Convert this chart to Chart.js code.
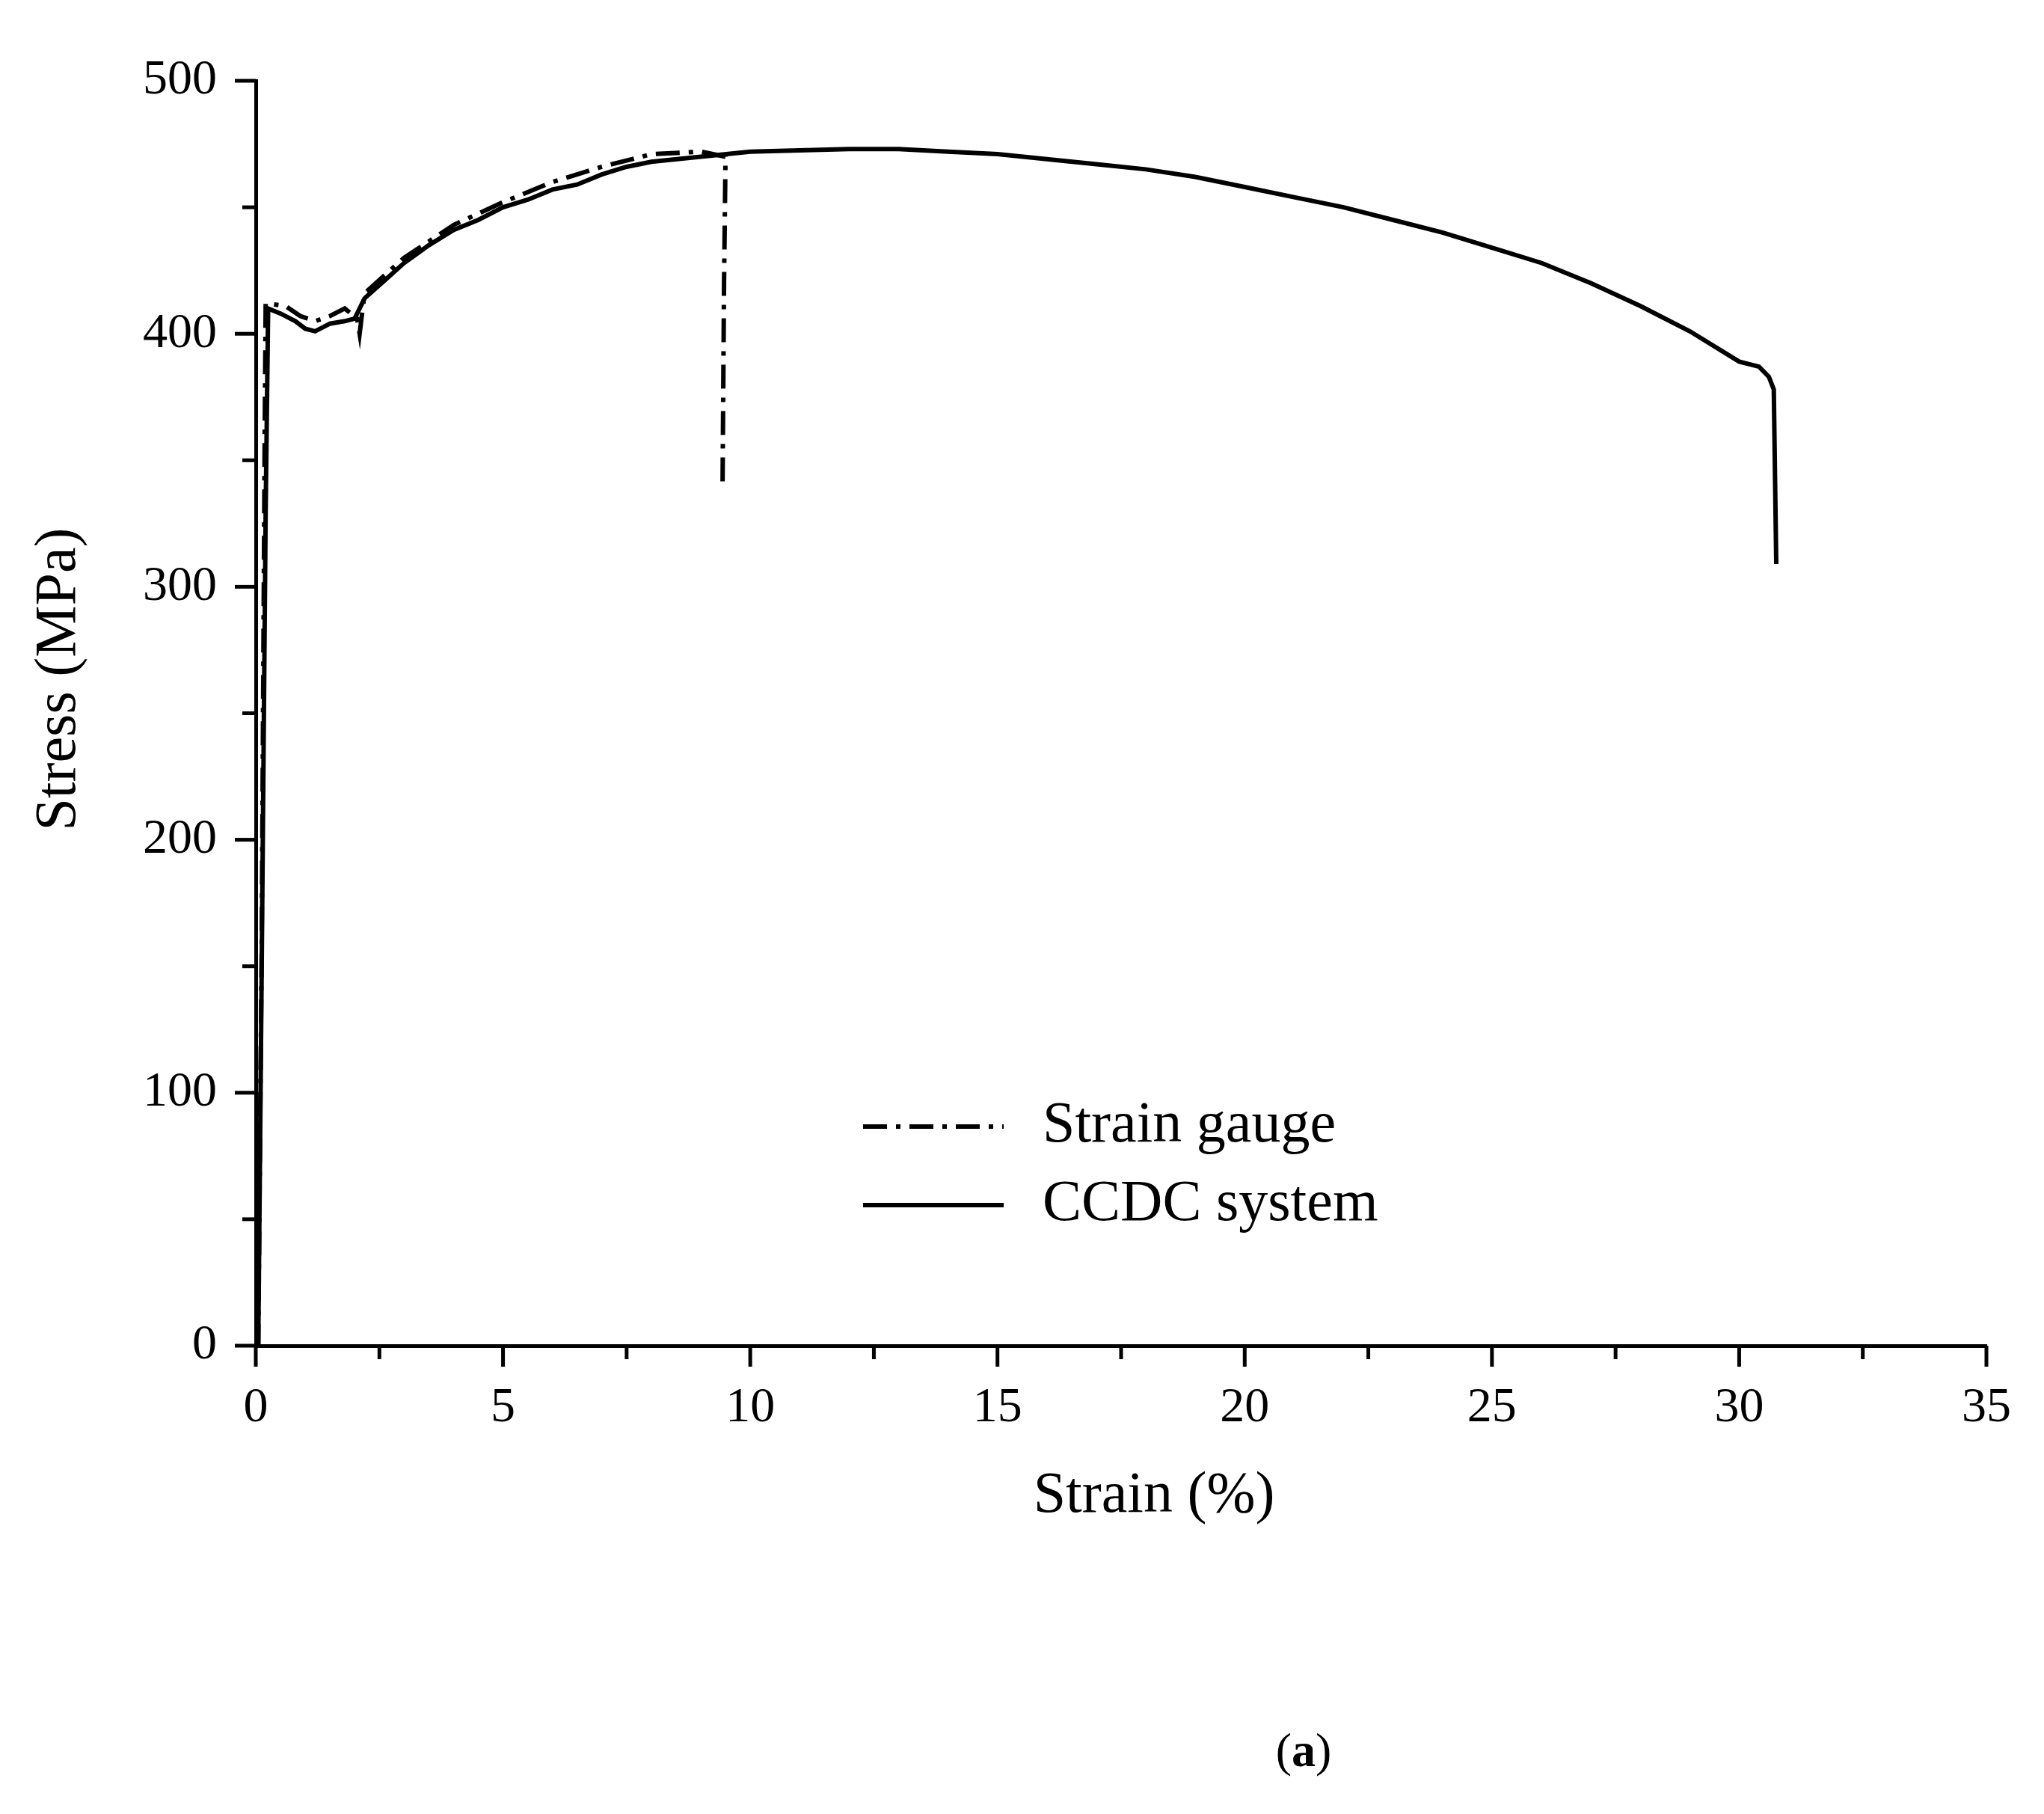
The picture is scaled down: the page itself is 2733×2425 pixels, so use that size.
<!DOCTYPE html>
<html><head><meta charset="utf-8">
<script src="https://cdn.jsdelivr.net/npm/chart.js@4"></script>
<style>html,body{margin:0;background:#fff}#c{display:block}</style>
</head><body>
<div style="width:2733px;height:2425px"><canvas id="c"></canvas></div>
<script>
const ccdcStrain = [0,0.05,0.12,0.2,0.25,0.5,0.8,1.0,1.2,1.5,1.8,2.0,2.2,2.6,3,3.5,4,4.5,5,5.5,6,6.5,7,7.5,8,9,10,11,12,13,14,15,16,17,18,19,20,21,22,23,24,25,26,27,28,29,30,30.4,30.6,30.7,30.75];
const ccdcStress = [0,0,150,330,410,408,405,402,401,404,405,406,414,421,428,435,441,445,450,453,457,459,463,466,468,470,472,472.5,473,473,472,471,469,467,465,462,458,454,450,445,440,434,428,420,411,401,389,387,383,378,309];
const gaugeStrain = [0,0.05,0.12,0.18,0.2,0.6,0.9,1.2,1.5,1.8,2.05,2.1,2.2,3,4,5,6,7,8,9,9.5,9.47,9.44];
const gaugeStress = [0,0,160,360,412,411,407,405,407,410,406,400,416,430,443,452,460,466,471,472,470,420,340];
const xTicks = [0,5,10,15,20,25,30,35];
const yTicks = [0,100,200,300,400,500];
const seriesNames = ['Strain gauge','CCDC system'];

const font = 'Liberation Serif';
const toXY = (xs, ys) => xs.map((x,i)=>({x, y: ys[i]}));
const DASH = [32,12,6,12];
const LW = 6;

const extras = {
  id:'extras',
  afterDraw(chart){
    const ctx = chart.ctx, xs = chart.scales.x, ys = chart.scales.y;
    ctx.save();
    ctx.strokeStyle='#000'; ctx.lineWidth=5; ctx.lineCap='butt';
    for(let v=0; v<=35.001; v+=2.5){
      const px = xs.getPixelForValue(v); const major = Math.abs(v/5-Math.round(v/5))<1e-6;
      ctx.beginPath(); ctx.moveTo(px, ys.bottom); ctx.lineTo(px, ys.bottom + (major?28:18)); ctx.stroke();
    }
    for(let v=0; v<=500.001; v+=50){
      const py = ys.getPixelForValue(v); const major = v%100===0;
      ctx.beginPath(); ctx.moveTo(xs.left, py); ctx.lineTo(xs.left - (major?28:18), py); ctx.stroke();
    }
    ctx.fillStyle='#000';
    // axis titles
    ctx.font = '78px "'+font+'"'; ctx.textAlign='center'; ctx.textBaseline='middle';
    ctx.fillText('Strain (%)', 1543, 2001);
    ctx.save(); ctx.translate(80, 908); ctx.rotate(-Math.PI/2); ctx.fillText('Stress (MPa)', 0, 0); ctx.restore();
    // legend
    const lx1=1154, lx2=1342, ly=[1506,1611];
    ctx.font = '78px "'+font+'"'; ctx.textAlign='left';
    for(let i=0;i<2;i++){
      ctx.setLineDash(i===0?DASH:[]); ctx.lineWidth=LW;
      ctx.beginPath(); ctx.moveTo(lx1, ly[i]); ctx.lineTo(lx2, ly[i]); ctx.stroke();
      ctx.setLineDash([]);
      ctx.fillText(seriesNames[i], 1394, ly[i]);
    }
    // (a)
    ctx.font = '64px "'+font+'"';
    const w1 = ctx.measureText('(').width, wa0 = ctx.measureText(')').width;
    ctx.font = 'bold 64px "'+font+'"'; const wa = ctx.measureText('a').width;
    let sx = 1743 - (w1+wa+wa0)/2;
    ctx.font = '64px "'+font+'"'; ctx.fillText('(', sx, 2344); sx+=w1;
    ctx.font = 'bold 64px "'+font+'"'; ctx.fillText('a', sx, 2344); sx+=wa;
    ctx.font = '64px "'+font+'"'; ctx.fillText(')', sx, 2344);
    ctx.restore();
  }
};

new Chart(document.getElementById('c'), {
  type:'scatter',
  data:{datasets:[
    {label:seriesNames[0], data:toXY(gaugeStrain,gaugeStress), showLine:true, pointRadius:0, borderColor:'#000', borderWidth:LW, borderDash:DASH, tension:0},
    {label:seriesNames[1], data:toXY(ccdcStrain,ccdcStress), showLine:true, pointRadius:0, borderColor:'#000', borderWidth:LW, tension:0}
  ]},
  options:{
    responsive:true, maintainAspectRatio:false, animation:false,
    layout:{padding:{left:0,right:44,top:108,bottom:0}},
    plugins:{legend:{display:false}, tooltip:{enabled:false}},
    scales:{
      x:{type:'linear', min:0, max:35,
        afterFit(s){s.height=626;},
        afterBuildTicks(s){s.ticks = xTicks.map(v=>({value:v}));},
        grid:{display:false, drawTicks:false},
        border:{display:true, color:'#000', width:5},
        ticks:{color:'#000', padding:44, maxRotation:0, font:{family:font, size:66}},
        title:{display:false}
      },
      y:{type:'linear', min:0, max:500,
        afterFit(s){s.width=342;},
        afterBuildTicks(s){s.ticks = yTicks.map(v=>({value:v}));},
        grid:{display:false, drawTicks:false},
        border:{display:true, color:'#000', width:5},
        ticks:{color:'#000', padding:52, font:{family:font, size:66}},
        title:{display:false}
      }
    }
  },
  plugins:[extras]
});
</script>
</body></html>
